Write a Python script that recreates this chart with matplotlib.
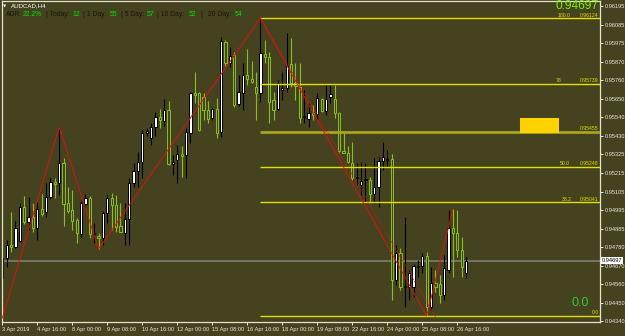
import matplotlib
matplotlib.use("Agg")
import matplotlib.pyplot as plt
from matplotlib.patches import Rectangle
import numpy as np

# ---------------- data ----------------
symbol = "AUDCAD,H4"
opens = [0.94595, 0.94713, 0.94789, 0.94778, 0.94813, 0.95013, 0.94925, 0.94954, 0.94889, 0.95001,
         0.94983, 0.95072, 0.95160, 0.95154, 0.95272, 0.95036, 0.94995, 0.94936, 0.94854, 0.95030,
         0.95066, 0.94854, 0.94842, 0.94831, 0.94978, 0.95066, 0.95025, 0.94901, 0.94860, 0.94942,
         0.95154, 0.95225, 0.95277, 0.95448, 0.95419, 0.95483, 0.95542, 0.95519, 0.95583, 0.95266,
         0.95289, 0.95324, 0.95319, 0.95448, 0.95683, 0.95683, 0.95660, 0.95583, 0.95536, 0.95589,
         0.95454, 0.95983, 0.95860, 0.95907, 0.95618, 0.95683, 0.95789, 0.95765, 0.95718, 0.95683,
         0.95912, 0.95895, 0.95642, 0.95589, 0.95701, 0.95713, 0.95854, 0.95742, 0.95718, 0.95542,
         0.95530, 0.95566, 0.95560, 0.95648, 0.95577, 0.95660, 0.95648, 0.95566, 0.95342, 0.95330,
         0.95272, 0.95183, 0.95142, 0.95172, 0.95172, 0.95089, 0.95130, 0.95283, 0.95289, 0.95295,
         0.94584, 0.94742, 0.94542, 0.94542, 0.94542, 0.94660, 0.94666, 0.94725, 0.94425, 0.94566,
         0.94560, 0.94495, 0.94642, 0.94889, 0.94860, 0.94760, 0.94625]
highs = [0.94725, 0.94819, 0.94983, 0.94931, 0.95036, 0.95078, 0.95072, 0.95036, 0.95042, 0.95089,
         0.95154, 0.95183, 0.95183, 0.95483, 0.95301, 0.95130, 0.95113, 0.94948, 0.95048, 0.95089,
         0.95078, 0.94919, 0.94860, 0.94989, 0.95083, 0.95095, 0.95083, 0.95036, 0.95036, 0.95183,
         0.95272, 0.95336, 0.95466, 0.95477, 0.95507, 0.95571, 0.95589, 0.95648, 0.95636, 0.95319,
         0.95377, 0.95372, 0.95477, 0.95689, 0.95807, 0.95689, 0.95683, 0.95636, 0.95601, 0.95654,
         0.96012, 0.95995, 0.95954, 0.95924, 0.95789, 0.95860, 0.95942, 0.95871, 0.95807, 0.96124,
         0.95995, 0.95924, 0.95689, 0.95760, 0.95807, 0.96036, 0.96007, 0.95860, 0.95860, 0.95701,
         0.95624, 0.95613, 0.95683, 0.95654, 0.95730, 0.95730, 0.95730, 0.95571, 0.95454, 0.95372,
         0.95395, 0.95272, 0.95277, 0.95272, 0.95189, 0.95301, 0.95307, 0.95395, 0.95348, 0.95324,
         0.94789, 0.94772, 0.94954, 0.94642, 0.94678, 0.94701, 0.94742, 0.94748, 0.94660, 0.94642,
         0.94613, 0.94731, 0.94995, 0.95001, 0.94995, 0.94836, 0.94719]
lows = [0.94584, 0.94660, 0.94748, 0.94772, 0.94807, 0.94913, 0.94878, 0.94866, 0.94819, 0.94960,
        0.94954, 0.95060, 0.95066, 0.95083, 0.94901, 0.94978, 0.94878, 0.94801, 0.94836, 0.95013,
        0.94831, 0.94801, 0.94766, 0.94789, 0.94919, 0.94878, 0.94866, 0.94866, 0.94789, 0.94789,
        0.95130, 0.95130, 0.95183, 0.95430, 0.95377, 0.95430, 0.95477, 0.95489, 0.95260, 0.95201,
        0.95154, 0.95189, 0.95183, 0.95389, 0.95624, 0.95460, 0.95524, 0.95507, 0.95524, 0.95419,
        0.95424, 0.95842, 0.95836, 0.95601, 0.95607, 0.95583, 0.95730, 0.95742, 0.95524, 0.95630,
        0.95860, 0.95507, 0.95524, 0.95583, 0.95642, 0.95689, 0.95718, 0.95642, 0.95507, 0.95507,
        0.95483, 0.95524, 0.95524, 0.95571, 0.95554, 0.95624, 0.95536, 0.95330, 0.95330, 0.95272,
        0.95172, 0.95142, 0.95083, 0.95036, 0.95042, 0.95036, 0.95013, 0.95230, 0.95248, 0.94466,
        0.94554, 0.94525, 0.94425, 0.94466, 0.94484, 0.94601, 0.94625, 0.94372, 0.94407, 0.94513,
        0.94448, 0.94466, 0.94625, 0.94601, 0.94719, 0.94601, 0.94595]
closes = [0.94713, 0.94789, 0.94778, 0.94889, 0.95013, 0.94925, 0.94954, 0.94889, 0.95001, 0.94972,
          0.95072, 0.95160, 0.95148, 0.95272, 0.95030, 0.94989, 0.94931, 0.94860, 0.95036, 0.95066,
          0.94854, 0.94860, 0.94831, 0.94978, 0.95066, 0.95025, 0.94895, 0.94866, 0.94942, 0.95154,
          0.95225, 0.95277, 0.95448, 0.95460, 0.95483, 0.95542, 0.95524, 0.95583, 0.95266, 0.95277,
          0.95324, 0.95313, 0.95454, 0.95683, 0.95671, 0.95466, 0.95583, 0.95530, 0.95589, 0.95448,
          0.95989, 0.95860, 0.95901, 0.95613, 0.95689, 0.95789, 0.95765, 0.95748, 0.95683, 0.95918,
          0.95895, 0.95630, 0.95583, 0.95742, 0.95713, 0.95848, 0.95742, 0.95724, 0.95536, 0.95548,
          0.95566, 0.95554, 0.95654, 0.95577, 0.95648, 0.95677, 0.95566, 0.95342, 0.95330, 0.95277,
          0.95183, 0.95189, 0.95166, 0.95177, 0.95089, 0.95130, 0.95283, 0.95307, 0.95295, 0.94584,
          0.94742, 0.94542, 0.94548, 0.94625, 0.94666, 0.94666, 0.94725, 0.94425, 0.94566, 0.94542,
          0.94495, 0.94654, 0.94889, 0.94860, 0.94760, 0.94660, 0.94697]

x_labels = ["3 Apr 2019", "4 Apr 16:00", "8 Apr 00:00", "9 Apr 08:00", "10 Apr 16:00",
            "12 Apr 00:00", "15 Apr 08:00", "16 Apr 16:00", "18 Apr 00:00", "19 Apr 08:00",
            "22 Apr 16:00", "24 Apr 00:00", "25 Apr 08:00", "26 Apr 16:00"]
bars_per_label = 8
price_labels = ["0.96195", "0.96085", "0.95975", "0.95870", "0.95760", "0.95650", "0.95540",
                "0.95430", "0.95325", "0.95215", "0.95105", "0.94995", "0.94885", "0.94780",
                "0.94670", "0.94560", "0.94450", "0.94340"]

fib_names = ["100.0", "78", "61.8", "50.0", "38.2", "0.0"]
fib_prices = [0.96124, 0.95739, 0.95455, 0.95248, 0.95041, 0.94372]
fib_show_price = [True, True, True, True, True, False]
fib_start_bar = 59

zigzag_bars = [0, 13, 22, 59, 97, 103]
zigzag_prices = [0.94360, 0.95483, 0.94766, 0.96124, 0.94372, 0.95001]
dotted_bars = [59, 99]
dotted_prices = [0.96124, 0.94366]

current_price = 0.94697
zone_bars = [118.3, 127.2]
zone_prices = [0.95448, 0.95536]

adr_names = ["ADR:", "| Today:", "| 1 Day:", "| 5 Day:", "| 10 Day:", "|", "20 Day:"]
adr_values = ["22.2%", "12", "55", "57", "52", "", "54"]
lower_value = "0.0"

# ---------------- style ----------------
BG = "#45421f"
BEAR = "#86c21e"
FRAME = "#e4e4cc"
TXT = "#e8e8e0"
FIB = "#e2e200"
W, H = 625, 336
FONT = ["Liberation Sans", "DejaVu Sans"]
plt.rcParams["font.family"] = FONT

fig = plt.figure(figsize=(W / 100, H / 100), dpi=100, facecolor=BG)
ax_l, ax_r, ax_t, ax_b = 2, 600, 1, 322
ax = fig.add_axes([ax_l / W, 1 - ax_b / H, (ax_r - ax_l) / W, (ax_b - ax_t) / H])
ax.set_facecolor(BG)

px_per_bar = 4.375
x0 = 2.3
ax.set_xlim((ax_l - x0) / px_per_bar, (ax_r - x0) / px_per_bar)


def py2price(y):
    return 0.96230 - 0.0000588 * y


ax.set_ylim(py2price(ax_b), py2price(ax_t))

n = len(opens)
idx = np.arange(n)
body_w = 0.52
for i in idx:
    o, h, l, c = opens[i], highs[i], lows[i], closes[i]
    bull = c >= o
    col = "black" if bull else BEAR
    ax.vlines(i, l, h, color=col, lw=0.8, zorder=2)
    lo = min(o, c)
    hgt = max(abs(c - o), 0.000005)
    ax.add_patch(Rectangle((i - body_w / 2, lo), body_w, hgt,
                           facecolor="white" if bull else BG,
                           edgecolor=col, lw=0.7, zorder=2.2))

# current price line
ax.axhline(current_price, color="#7d7d72", lw=1.2, zorder=1.5)

# fib lines
for name, pr in zip(fib_names, fib_prices):
    if name == "61.8":
        ax.hlines(pr, fib_start_bar, ax.get_xlim()[1], color="#a8a41c", lw=2.0, zorder=3)
    else:
        ax.hlines(pr, fib_start_bar, ax.get_xlim()[1], color=FIB, lw=1.0, zorder=3)

fib_name_px = {"100.0": 558, "78": 556, "61.8": 531, "50.0": 560, "38.2": 562, "0.0": 592}
for name, pr, showp in zip(fib_names, fib_prices, fib_show_price):
    ax.text((fib_name_px[name] - x0) / px_per_bar, pr + 0.00003, name, color=FIB,
            fontsize=3.7, ha="left", va="bottom", zorder=4)
    if showp:
        ax.text((598 - x0) / px_per_bar, pr + 0.00003, f"{pr:.5f}", color=FIB,
                fontsize=3.7, ha="right", va="bottom", zorder=4)

# zone rectangle
ax.add_patch(Rectangle((zone_bars[0], zone_prices[0]), zone_bars[1] - zone_bars[0],
                       zone_prices[1] - zone_prices[0], facecolor="#ffd200",
                       edgecolor="none", zorder=3.5))

# zigzag
ax.plot(zigzag_bars, zigzag_prices, color="#e01010", lw=0.7, zorder=4, clip_on=True)
ax.plot(dotted_bars, dotted_prices, color="#e01010", lw=0.7, ls=(0, (1.2, 1.6)), zorder=4)

# axes styling
for s in ax.spines.values():
    s.set_color(FRAME)
    s.set_linewidth(0.9)

xt = np.arange(len(x_labels)) * bars_per_label
ax.set_xticks(xt)
ax.set_xticklabels(x_labels)
for lab in ax.get_xticklabels():
    lab.set_ha("left")
ax.tick_params(axis="x", direction="out", length=2.5, width=0.7, color=TXT,
               labelsize=4.1, labelcolor=TXT, pad=1.2)

yt = np.linspace(0.94340, 0.96195, len(price_labels))[::-1]
ylabs = [lab if abs(float(lab) - current_price) > 0.0002 else "" for lab in price_labels]
ax.set_yticks(yt)
ax.set_yticklabels(ylabs)
ax.yaxis.tick_right()
ax.tick_params(axis="y", direction="out", length=2.5, width=0.7, color=TXT,
               labelsize=4.1, labelcolor=TXT, pad=1.2)

# current price tag
ax.text(1.0 + 1.5 / (ax_r - ax_l), current_price, f"{current_price:.5f}",
        transform=ax.get_yaxis_transform(), color="black", fontsize=4.1,
        ha="left", va="center", zorder=6, clip_on=False,
        bbox=dict(boxstyle="square,pad=0.15", facecolor="white", edgecolor="none"))

# big price text top-right & lower value
fig.text(599 / W, 1 - 12.2 / H, f"{current_price:.5f}", color="#7cf000", fontsize=8.6,
         ha="right", va="bottom")
fig.text(580 / W, 1 - 303.5 / H, lower_value, color="#34c834", fontsize=9,
         ha="center", va="center")

# header
fig.text(3 / W, 1 - 6 / H, "\u25BC", color="white", fontsize=3, ha="left", va="center",
         family=["DejaVu Sans"])
fig.text(11 / W, 1 - 6 / H, symbol, color="white", fontsize=4.4, ha="left", va="center")
name_px = [6, 46, 83, 121, 157, 200, 208]
val_px = [23, 72, 110, 147, 189, 0, 235]
for nm, vl, nx, vx in zip(adr_names, adr_values, name_px, val_px):
    fig.text(nx / W, 1 - 15 / H, nm, color="#16160c", fontsize=4.9, ha="left", va="center")
    if vl:
        fig.text(vx / W, 1 - 15 / H, vl, color="#00e400", fontsize=4.9, ha="left", va="center")

fig.savefig("out.png", dpi=100, facecolor=BG)
